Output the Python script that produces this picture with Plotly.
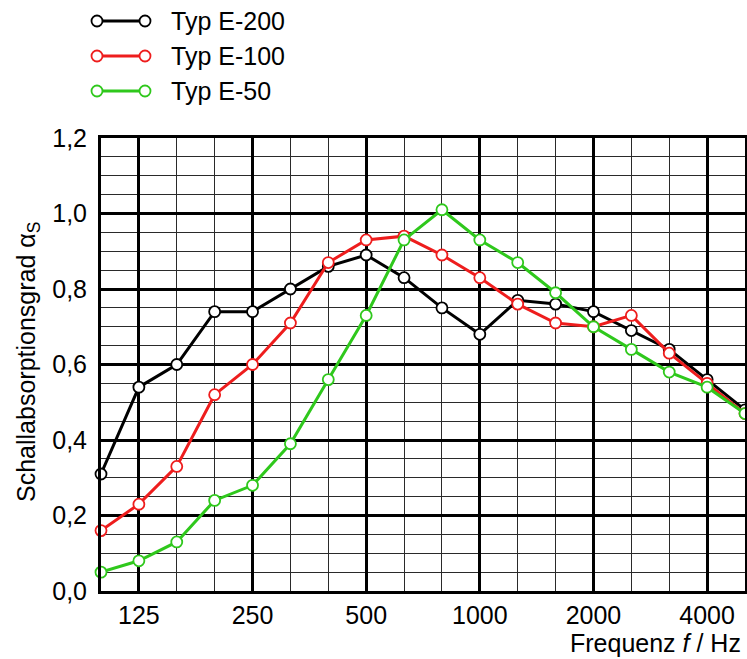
import plotly.graph_objects as go

freqs = [100, 125, 160, 200, 250, 315, 400, 500, 630, 800, 1000, 1250, 1600, 2000, 2500, 3150, 4000, 5000]
tick_freqs = [125, 250, 500, 1000, 2000, 4000]
tick_labels = ["125", "250", "500", "1000", "2000", "4000"]

series_names = ["Typ E-200", "Typ E-100", "Typ E-50"]
e200 = [0.31, 0.54, 0.60, 0.74, 0.74, 0.80, 0.86, 0.89, 0.83, 0.75, 0.68, 0.77, 0.76, 0.74, 0.69, 0.64, 0.56, 0.48]
e100 = [0.16, 0.23, 0.33, 0.52, 0.60, 0.71, 0.87, 0.93, 0.94, 0.89, 0.83, 0.76, 0.71, 0.70, 0.73, 0.63, 0.55, 0.47]
e50 = [0.05, 0.08, 0.13, 0.24, 0.28, 0.39, 0.56, 0.73, 0.93, 1.01, 0.93, 0.87, 0.79, 0.70, 0.64, 0.58, 0.54, 0.47]
colors = ["#000000", "#ee1d1d", "#2fc81c"]

xpos = list(range(len(freqs)))
tickvals = [freqs.index(f) for f in tick_freqs]

FONT = "Liberation Sans, Arial, sans-serif"
FS = 25

# figure geometry (pixels)
W, H = 747, 659
ML, MR, MT, MB = 80, 2, 0, 68
PW, PH = W - ML - MR, H - MT - MB
plot_left, plot_right, plot_top, plot_bottom = 101, 745, 138, 591

def px_x(p):
    return (p - ML) / PW

def px_y(p):
    return (H - MB - p) / PH

LINE_W = 3
MARK = dict(symbol="circle", size=11, color="white")

fig = go.Figure()
for i, (name, vals, col) in enumerate(zip(series_names, [e200, e100, e50], colors)):
    fig.add_trace(go.Scatter(
        x=xpos, y=vals, name=name, mode="lines+markers",
        line=dict(color=col, width=LINE_W),
        marker=dict(**MARK, line=dict(color=col, width=1.8)),
        cliponaxis=False, showlegend=False,
        xaxis="x", yaxis="y",
    ))

# custom legend (sample line with open circles at both ends)
leg_x0, leg_x1, leg_text = 97, 145, 169
leg_rows = [21, 56, 91]
leg_dom_top, leg_dom_bot = 2, 110
unit = leg_x1 - leg_x0
row_gap = leg_rows[1] - leg_rows[0]
annotations = []
for i, (name, col) in enumerate(zip(series_names, colors)):
    fig.add_trace(go.Scatter(
        x=[0, 1], y=[i, i], mode="lines+markers", showlegend=False,
        line=dict(color=col, width=LINE_W),
        marker=dict(**MARK, line=dict(color=col, width=1.8)),
        cliponaxis=False, xaxis="x2", yaxis="y2", hoverinfo="skip",
    ))
    annotations.append(dict(
        text=name, xref="x2", yref="y2", x=(leg_text - leg_x0) / unit, y=i,
        xanchor="left", yanchor="middle", showarrow=False, font=dict(size=FS),
    ))

annotations.append(dict(
    text="Frequenz <i>f</i> / Hz", xref="paper", yref="paper",
    x=px_x(743), y=px_y(643), xanchor="right", yanchor="middle", showarrow=False,
    font=dict(size=FS),
))
annotations.append(dict(
    text="Schallabsorptionsgrad α<sub>S</sub>", xref="paper", yref="paper",
    x=px_x(28), y=px_y(362), xanchor="center", yanchor="middle", showarrow=False,
    textangle=-90, font=dict(size=FS),
))

fig.update_layout(
    width=W, height=H,
    margin=dict(l=ML, r=MR, t=MT, b=MB, autoexpand=False),
    paper_bgcolor="white", plot_bgcolor="white",
    separators=",.",
    font=dict(family=FONT, size=FS, color="black"),
    showlegend=False,
    xaxis=dict(
        domain=[px_x(plot_left), px_x(plot_right)],
        range=[0, 17], tickmode="array", tickvals=tickvals, ticktext=tick_labels,
        showgrid=True, gridcolor="black", gridwidth=3,
        showline=True, linecolor="black", linewidth=3, mirror=True,
        ticks="", zeroline=False, ticklabelstandoff=0, automargin=False,
        tickfont=dict(size=FS),
        minor=dict(tickmode="linear", tick0=0, dtick=1, showgrid=True,
                   gridcolor="#2a2a2a", gridwidth=1, ticks=""),
    ),
    yaxis=dict(
        domain=[px_y(plot_bottom), px_y(plot_top)],
        range=[0, 1.2], tickmode="linear", tick0=0, dtick=0.2, tickformat=".1f",
        showgrid=True, gridcolor="black", gridwidth=3,
        showline=True, linecolor="black", linewidth=3, mirror=True,
        ticks="", zeroline=False, ticklabelstandoff=6, automargin=False,
        tickfont=dict(size=FS),
        minor=dict(tickmode="linear", tick0=0, dtick=0.05, showgrid=True,
                   gridcolor="#2a2a2a", gridwidth=1, ticks=""),
    ),
    xaxis2=dict(
        domain=[0, 1], anchor="y2",
        range=[(ML - leg_x0) / unit, (ML + PW - leg_x0) / unit],
        visible=False, fixedrange=True, automargin=False,
    ),
    yaxis2=dict(
        domain=[px_y(leg_dom_bot), px_y(leg_dom_top)], anchor="x2",
        range=[(leg_dom_bot - leg_rows[0]) / row_gap, (leg_dom_top - leg_rows[0]) / row_gap],
        visible=False, fixedrange=True, automargin=False,
    ),
    annotations=annotations,
)

fig.write_html("out.html", config={"displayModeBar": False})

# remove default page margin so the figure sits at the window origin
with open("out.html", "r", encoding="utf-8") as fh:
    html = fh.read()
html = html.replace("<body>", '<body style="margin:0;padding:0;">', 1)
with open("out.html", "w", encoding="utf-8") as fh:
    fh.write(html)
